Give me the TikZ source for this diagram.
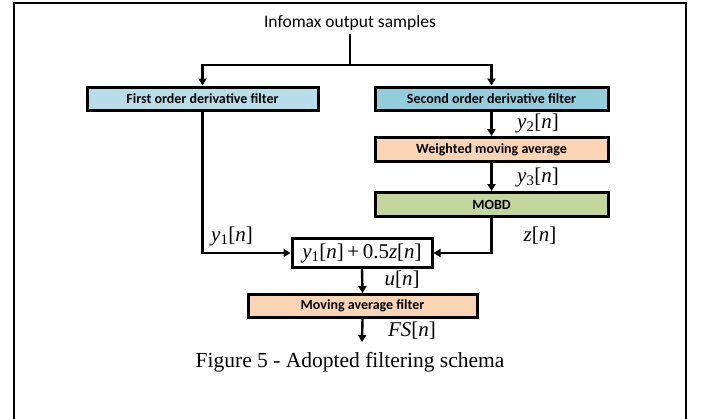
\documentclass[tikz,border=0pt]{standalone}
\usepackage{fontspec}
\setmainfont{Liberation Serif}
\newfontfamily\calib{Carlito}
\usetikzlibrary{arrows.meta}
\definecolor{cfirst}{HTML}{B7DDE8}
\definecolor{csecond}{HTML}{92CDDC}
\definecolor{cpeach}{HTML}{FBD4B4}
\definecolor{cgreen}{HTML}{C2D69B}
\newcommand{\mv}[1]{\textit{#1}}
\begin{document}
\begin{tikzpicture}[x=1pt,y=-1pt,
  blk/.style={draw=black,line width=3pt,minimum height=23pt,inner sep=0pt,
    font=\calib\bfseries\fontsize{14}{16}\selectfont},
  conn/.style={line width=2.4pt,-{Triangle[width=8pt,length=7pt]}},
  line/.style={line width=2.4pt},
  lbl/.style={font=\rmfamily\fontsize{21}{23}\selectfont,inner sep=0pt}]
\useasboundingbox (0,0) rectangle (706,418);
\draw[line width=2.6pt] (14,430) -- (14,3) -- (686,3) -- (686,430);
\node[font=\calib\fontsize{17.5}{19}\selectfont,inner sep=1pt] (src) at (350,23) {Infomax output samples};
\node[blk,fill=cfirst,minimum width=231pt] (f1) at (202.5,98.5) {First order derivative filter};
\node[blk,fill=csecond,minimum width=233pt] (f2) at (491.5,98.5) {Second order derivative filter};
\node[blk,fill=cpeach,minimum width=233pt,minimum height=24pt] (wma) at (491.5,149.5) {Weighted moving average};
\node[blk,fill=cgreen,minimum width=233pt,minimum height=24pt] (mobd) at (491.5,204.5) {MOBD};
\node[blk,fill=white,minimum width=140pt,minimum height=29pt,font=\rmfamily\fontsize{21}{23}\selectfont] (sum) at (362,253)
  {\mv{y}\textsubscript{1}[\mv{n}]\,+\,0.5\mv{z}[\mv{n}]};
\node[blk,fill=cpeach,minimum width=229pt] (maf) at (362.5,306) {Moving average filter};
\coordinate (split) at (350,65);
\coordinate (out) at (362,342);
\draw[line] (src.south) ++(0,2) -- (split);
\draw[conn] (split) -| (f1.north);
\draw[conn] (split) -| (f2.north);
\draw[conn] (f2.south -| wma.north) -- (wma.north);
\draw[conn] (wma.south) -- (mobd.north);
\draw[conn] (f1.south) |- (sum.west);
\draw[conn] (mobd.south) |- (sum.east);
\draw[conn] (sum.south) -- (maf.north);
\draw[conn] (maf.south) -- (out);
\node[lbl] (ly2) at (538,123) {\mv{y}\textsubscript{2}[\mv{n}]};
\node[lbl] (ly3) at (538,177) {\mv{y}\textsubscript{3}[\mv{n}]};
\node[lbl] (ly1) at (232,236) {\mv{y}\textsubscript{1}[\mv{n}]};
\node[lbl] (lz) at (540,236) {\mv{z}[\mv{n}]};
\node[lbl] (lu) at (402,280) {\mv{u}[\mv{n}]};
\node[lbl] (lfs) at (412,331) {\mv{FS}[\mv{n}]};
\node[font=\rmfamily\fontsize{21.5}{24}\selectfont,inner sep=0pt] (cap) at (350,362) {Figure 5 - Adopted filtering schema};
\end{tikzpicture}
\end{document}
